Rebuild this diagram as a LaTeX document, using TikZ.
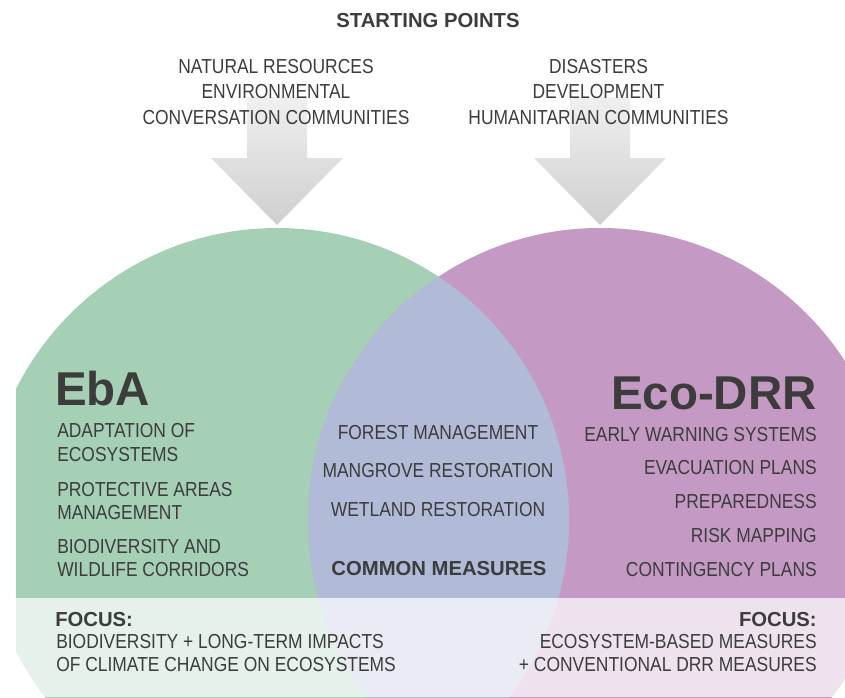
\documentclass[tikz,border=0pt]{standalone}
\usepackage{fontspec}
\setmainfont{Liberation Sans}[FakeStretch=0.86]
\newfontfamily\titlefont{Liberation Sans}
\usepackage{xcolor}
\definecolor{ebagreen}{HTML}{A5D0B5}
\definecolor{drrpurple}{HTML}{C49AC4}
\definecolor{commonblue}{HTML}{B1BBD8}
\definecolor{inkgray}{HTML}{3C3C3C}

\tikzset{
  itemtext/.style={inner sep=0pt, text=inkgray, font=\fontsize{15.2}{18}\selectfont},
  headtext/.style={inner sep=0pt, text=inkgray, font=\titlefont\fontsize{15.2}{18}\selectfont\bfseries},
  bigtitle/.style={inner sep=0pt, text=inkgray, font=\titlefont\fontsize{35.6}{40}\selectfont\bfseries},
  arrowshade/.style={top color=gray!12, middle color=gray!60, bottom color=gray!38}
}

\begin{document}
\begin{tikzpicture}[x=0.75pt, y=-0.75pt]
  \useasboundingbox (0,0) rectangle (845,697);

  % Centres and radius of the two circles
  \def\lx{277}
  \def\rx{600}
  \def\cy{520}
  \def\circr{292}

  % Draw the two big arrows
  \foreach \ax in {\lx,\rx} {
    \shade[arrowshade] (\ax-30,97) -- (\ax+30,97) -- (\ax+30,158) -- (\ax+66,158)
      -- (\ax,225) -- (\ax-66,158) -- (\ax-30,158) -- cycle;
  }

  % Starting points
  \node[headtext] (start) at (428,21) {STARTING POINTS};
  \foreach \ypos/\txt [count=\i] in {67/NATURAL RESOURCES, 92/ENVIRONMENTAL, 118/CONVERSATION COMMUNITIES}
    \node[itemtext] (start-l\i) at (276,\ypos) {\txt};
  \foreach \ypos/\txt [count=\i] in {67/DISASTERS, 92/DEVELOPMENT, 118/HUMANITARIAN COMMUNITIES}
    \node[itemtext] (start-r\i) at (598.5,\ypos) {\txt};

  % Circles, overlap and the focus band
  \begin{scope}
    \clip (16,0) rectangle (845,697);
    \fill[ebagreen] (\lx,\cy) circle (\circr);
    \fill[drrpurple] (\rx,\cy) circle (\circr);
    \begin{scope}
      \clip (\lx,\cy) circle (\circr);
      \fill[commonblue] (\rx,\cy) circle (\circr);
    \end{scope}
    \fill[white, opacity=0.72] (16,598) rectangle (845,697);
  \end{scope}

  % EbA side
  \node[bigtitle, anchor=west] (eba) at (55,389) {EbA};
  \foreach \ypos/\txt [count=\i] in {431/ADAPTATION OF, 455/ECOSYSTEMS, 490/PROTECTIVE AREAS,
      513/MANAGEMENT, 547/BIODIVERSITY AND, 570/WILDLIFE CORRIDORS}
    \node[itemtext, anchor=west] (eba-\i) at (57,\ypos) {\txt};

  % Common measures
  \foreach \ypos/\txt [count=\i] in {433/FOREST MANAGEMENT, 471/MANGROVE RESTORATION, 510/WETLAND RESTORATION}
    \node[itemtext] (common-\i) at (438,\ypos) {\txt};
  \node[headtext] (common) at (439,569) {COMMON MEASURES};

  % Eco-DRR side
  \node[bigtitle, anchor=east] (ecodrr) at (817,393) {Eco-DRR};
  \foreach \ypos/\txt [count=\i] in {435/EARLY WARNING SYSTEMS, 468/EVACUATION PLANS, 502/PREPAREDNESS,
      536/RISK MAPPING, 570/CONTINGENCY PLANS}
    \node[itemtext, anchor=east] (drr-\i) at (817,\ypos) {\txt};

  % Focus texts
  \node[headtext, anchor=west] (focus-l) at (55,620) {FOCUS:};
  \node[itemtext, anchor=west] (focus-l1) at (56,642) {BIODIVERSITY + LONG-TERM IMPACTS};
  \node[itemtext, anchor=west] (focus-l2) at (56,665) {OF CLIMATE CHANGE ON ECOSYSTEMS};
  \node[headtext, anchor=east] (focus-r) at (817,620) {FOCUS:};
  \node[itemtext, anchor=east] (focus-r1) at (817,642) {ECOSYSTEM-BASED MEASURES};
  \node[itemtext, anchor=east] (focus-r2) at (817,665) {+ CONVENTIONAL DRR MEASURES};
\end{tikzpicture}
\end{document}
